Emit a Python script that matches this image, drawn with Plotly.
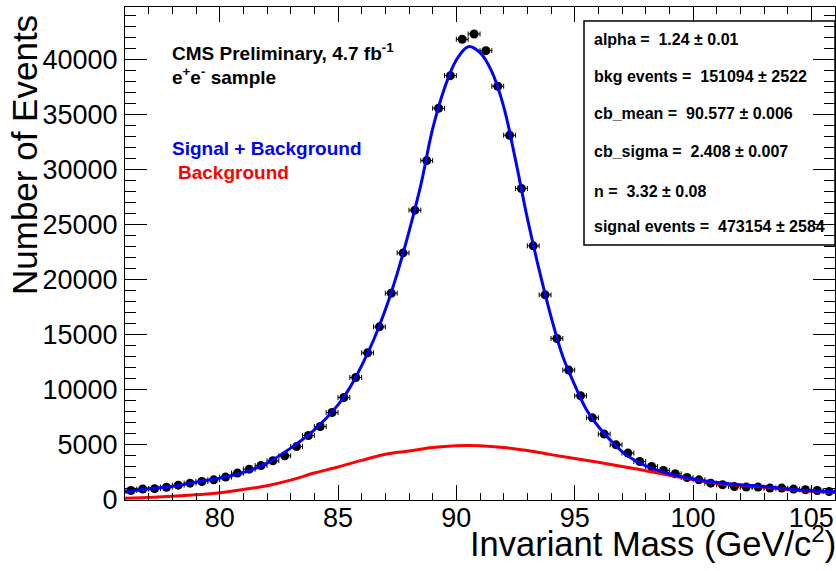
import plotly.graph_objects as go

# ---------------- data ----------------
mass = [76.25, 76.75, 77.25, 77.75, 78.25, 78.75, 79.25, 79.75, 80.25, 80.75,
        81.25, 81.75, 82.25, 82.75, 83.25, 83.75, 84.25, 84.75, 85.25, 85.75,
        86.25, 86.75, 87.25, 87.75, 88.25, 88.75, 89.25, 89.75, 90.25, 90.75,
        91.25, 91.75, 92.25, 92.75, 93.25, 93.75, 94.25, 94.75, 95.25, 95.75,
        96.25, 96.75, 97.25, 97.75, 98.25, 98.75, 99.25, 99.75, 100.25, 100.75,
        101.25, 101.75, 102.25, 102.75, 103.25, 103.75, 104.25, 104.75, 105.25, 105.75]
events = [860, 1000, 1030, 1160, 1350, 1530, 1680, 1830, 2080, 2440,
          2800, 3130, 3560, 4010, 4850, 5850, 6670, 7940, 9300, 11120,
          13360, 15720, 18770, 22430, 26310, 30810, 35560, 38520, 41820, 42300,
          40790, 37560, 33110, 28280, 23070, 18620, 14660, 11790, 9460, 7460,
          5980, 5010, 4260, 3490, 3040, 2680, 2380, 2040, 1830, 1530,
          1380, 1230, 1170, 1170, 1080, 1080, 990, 930, 860, 770]

fit_mass = [76, 77, 78, 79, 80, 81, 82, 83, 84, 85, 85.5, 86, 86.5, 87, 87.5, 88,
            88.5, 89, 89.5, 90, 90.5, 91, 91.5, 92, 92.5, 93, 93.5, 94, 94.5, 95,
            95.5, 96, 96.5, 97, 97.5, 98, 99, 100, 101, 102, 103, 104, 105, 106]
fit_total = [700, 1016, 1225, 1624, 1987, 2495, 3348, 4709, 6370, 8640, 10200, 12200,
             14500, 17260, 20550, 24360, 28600, 33700, 37380, 39940, 41150, 40610,
             38880, 35710, 30870, 25580, 20890, 16650, 13020, 10450, 8185, 6670,
             5460, 4400, 3650, 3100, 2380, 1900, 1590, 1380, 1225, 990, 835, 744]

bkg_mass = [76, 77, 78, 79, 80, 81, 82, 83, 84, 85, 86, 87, 88, 89, 90, 90.5, 91,
            92, 93, 94, 95, 96, 97, 98, 99, 100, 101, 102, 103, 104, 105, 106]
bkg = [150, 230, 330, 470, 660, 950, 1300, 1800, 2450, 3000, 3600, 4150, 4450, 4760,
       4930, 4950, 4930, 4760, 4490, 4120, 3760, 3420, 3050, 2660, 2240, 1860, 1530,
       1330, 1180, 950, 790, 700]

stats_lines = [
    "alpha =\u00a0 1.24 ± 0.01",
    "bkg events =\u00a0 151094 ± 2522",
    "cb_mean =\u00a0 90.577 ± 0.006",
    "cb_sigma =\u00a0 2.408 ± 0.007",
    "n =\u00a0 3.32 ± 0.08",
    "signal events =\u00a0 473154 ± 2584",
]
stats_baselines = [44, 80, 118, 155, 195, 230]

FONT = "Liberation Sans, Arial, Helvetica, sans-serif"

# plot area in pixels
L, R, T, B = 125, 835, 7, 500
W, H = 836, 571


def px(xp):
    return (xp - L) / (R - L)


def py(yp):
    return (B - yp) / (B - T)


fig = go.Figure()
fig.add_trace(go.Scatter(
    x=mass, y=events, mode="markers",
    marker=dict(color="black", size=9),
    error_x=dict(type="constant", value=0.25, color="black", thickness=1, width=2.5),
    hoverinfo="x+y"))
fig.add_trace(go.Scatter(
    x=bkg_mass, y=bkg, mode="lines",
    line=dict(color="#ff0000", width=3, shape="spline")))
fig.add_trace(go.Scatter(
    x=fit_mass, y=fit_total, mode="lines",
    line=dict(color="#0000ff", width=3, shape="spline")))

annotations = []
annotations.append(dict(text="<b>CMS Preliminary, 4.7 fb<sup>-1</sup></b>", x=px(170), y=py(52),
                        xanchor="left", yanchor="middle", font=dict(size=19, color="black")))
annotations.append(dict(text="<b>e<sup>+</sup>e<sup>-</sup> sample</b>", x=px(170), y=py(76),
                        xanchor="left", yanchor="middle", font=dict(size=19, color="black")))
annotations.append(dict(text="<b>Signal + Background</b>", x=px(170), y=py(149),
                        xanchor="left", yanchor="middle", font=dict(size=19, color="#0000ff")))
annotations.append(dict(text="<b>Background</b>", x=px(176), y=py(172),
                        xanchor="left", yanchor="middle", font=dict(size=19, color="#ff0000")))
for t, b in zip(stats_lines, stats_baselines):
    annotations.append(dict(text="<b>" + t + "</b>", x=px(592), y=py(b - 4),
                            xanchor="left", yanchor="middle", font=dict(size=16, color="black")))
annotations.append(dict(text="Invariant Mass (GeV/c<sup>2</sup>)", x=px(468), y=py(565),
                        xanchor="left", yanchor="bottom", font=dict(size=34.5, color="black")))
annotations.append(dict(text="Number of Events", x=px(24), y=py(13), textangle=-90,
                        xanchor="center", yanchor="top", font=dict(size=35, color="black")))
for a in annotations:
    a.update(xref="paper", yref="paper", showarrow=False)

fig.update_layout(
    width=W, height=H,
    margin=dict(l=L, r=W - R, t=T, b=H - B, autoexpand=False),
    paper_bgcolor="white", plot_bgcolor="white",
    showlegend=False,
    font=dict(family=FONT, color="black"),
    annotations=annotations,
    shapes=[dict(type="rect", xref="paper", yref="paper",
                 x0=px(584), x1=1.0, y0=py(245), y1=py(21),
                 line=dict(color="black", width=1.5), fillcolor="rgba(0,0,0,0)", layer="above")],
    xaxis=dict(range=[76, 106], showline=True, linecolor="black", linewidth=1, automargin=False,
               mirror="allticks", ticks="inside", ticklen=15, tickcolor="black", tickwidth=1,
               tick0=80, dtick=5, tickfont=dict(size=27, family=FONT, color="black"),
               ticklabelstandoff=-6, ticklabeloverflow="allow",
               minor=dict(ticks="inside", ticklen=7, dtick=1, tickcolor="black", tickwidth=1),
               showgrid=False, zeroline=False),
    yaxis=dict(range=[0, 44750], showline=True, linecolor="black", linewidth=1, automargin=False,
               mirror="allticks", ticks="inside", ticklen=22, tickcolor="black", tickwidth=1,
               tick0=0, dtick=5000, tickformat="d", tickfont=dict(size=27, family=FONT, color="black"),
               ticklabelstandoff=1,
               minor=dict(ticks="inside", ticklen=11, dtick=1000, tickcolor="black", tickwidth=1),
               showgrid=False, zeroline=False),
)

fig.write_html("out.html", config={"displayModeBar": False},
               post_script="document.body.style.margin='0px';document.body.style.padding='0px';")
